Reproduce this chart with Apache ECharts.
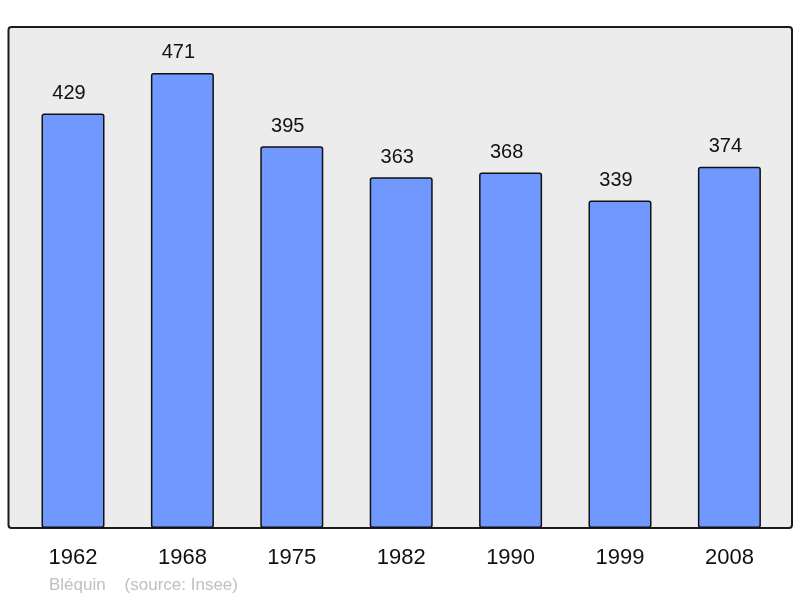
<!DOCTYPE html>
<html>
<head>
<meta charset="utf-8">
<script src="https://cdn.jsdelivr.net/npm/echarts@6/dist/echarts.min.js"></script>
<style>
  html, body { margin: 0; padding: 0; background: #fff; }
  #chart { width: 800px; height: 598px; }
</style>
</head>
<body>
<div id="chart"></div>
<script>
// population per census year
var years = ['1962', '1968', '1975', '1982', '1990', '1999', '2008'];
var population = [429, 471, 395, 363, 368, 339, 374];
var commune = 'Bléquin';
var source = '(source: Insee)';

var chart = echarts.init(document.getElementById('chart'));

var option = {
  animation: false,
  backgroundColor: '#ffffff',
  graphic: [
    {
      type: 'rect',
      z: -10,
      shape: { x: 8.5, y: 27, width: 783.5, height: 501, r: 3 },
      style: { fill: '#ececec', stroke: '#1a1a1a', lineWidth: 2 }
    },
    {
      type: 'text',
      left: 49,
      top: 577,
      style: {
        text: commune + '    ' + source,
        fill: '#c0c0c0',
        font: '17px "Liberation Sans", Arial, sans-serif'
      }
    }
  ],
  grid: { left: 18.3, right: 15.9, top: 27.5, bottom: 70 },
  xAxis: {
    type: 'category',
    data: years,
    axisLine: { show: false },
    axisTick: { show: false },
    axisLabel: {
      margin: 19,
      color: '#111',
      fontSize: 22,
      fontFamily: '"Liberation Sans", Arial, sans-serif'
    }
  },
  yAxis: {
    type: 'value',
    min: 0,
    max: 518,
    show: false,
    splitLine: { show: false }
  },
  series: [{
    type: 'bar',
    data: population,
    barWidth: 63,
    itemStyle: {
      color: '#7098ff',
      borderColor: '#111',
      borderWidth: 1.5,
      borderRadius: 2
    },
    label: {
      show: true,
      position: 'top',
      distance: 10,
      offset: [-4, 0],
      color: '#111',
      fontSize: 20,
      fontFamily: '"Liberation Sans", Arial, sans-serif'
    }
  }]
};

chart.setOption(option);
</script>
</body>
</html>
